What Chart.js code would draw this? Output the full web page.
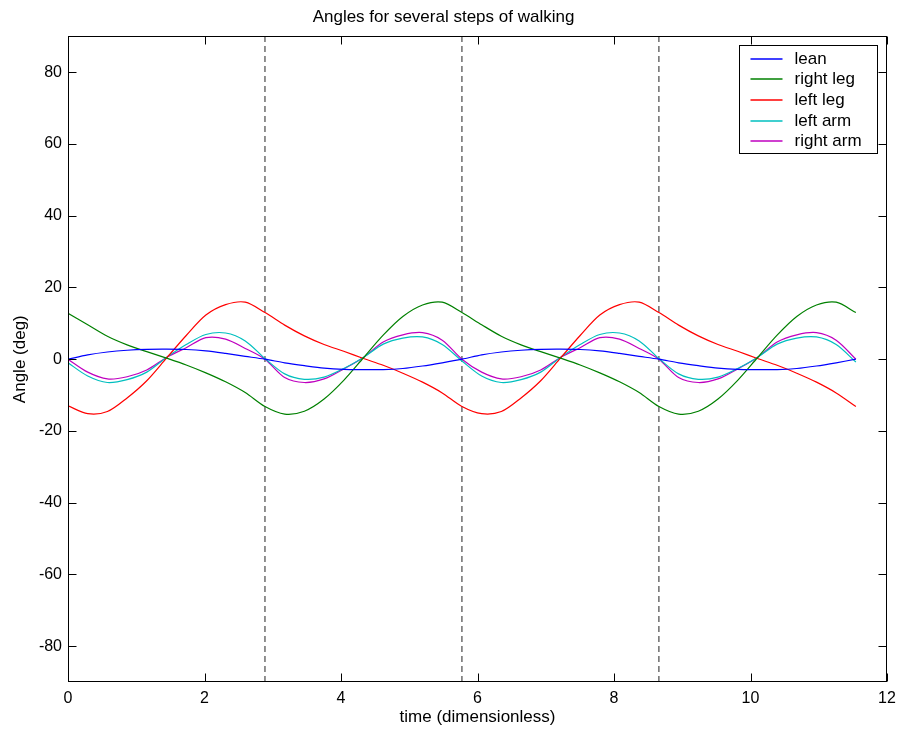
<!DOCTYPE html>
<html>
<head>
<meta charset="utf-8">
<title>Angles for several steps of walking</title>
<script src="https://cdn.jsdelivr.net/npm/chart.js@4.4.1/dist/chart.umd.min.js"></script>
<style>
  html, body { margin: 0; padding: 0; background: #fff; }
  canvas { display: block; }
</style>
</head>
<body>
<canvas id="myChart" width="898" height="736"></canvas>
<script>
// sample times (dimensionless)
const times = [0, 0.289, 0.577, 0.866, 1.154, 1.443, 1.732, 2.020, 2.309, 2.597,
  2.886, 3.175, 3.463, 3.752, 4.040, 4.329, 4.618, 4.906, 5.195, 5.483,
  5.772, 6.061, 6.349, 6.638, 6.926, 7.215, 7.504, 7.792, 8.081, 8.369,
  8.658, 8.947, 9.235, 9.524, 9.812, 10.101, 10.390, 10.678, 10.967, 11.255, 11.544];

// angles in degrees
const lean = [0, 1.2, 2.0, 2.5, 2.75, 2.8, 2.7, 2.3, 1.6, 0.8,
  0, -1.0, -1.8, -2.5, -2.85, -2.9, -2.9, -2.6, -1.9, -1.0,
  0, 1.2, 2.0, 2.5, 2.75, 2.8, 2.7, 2.3, 1.6, 0.8,
  0, -1.0, -1.8, -2.5, -2.85, -2.9, -2.9, -2.6, -1.9, -1.0, 0];
const rightLeg = [12.8, 9.6, 6.4, 4.0, 2.1, 0.3, -1.6, -3.8, -6.3, -9.3,
  -13.2, -15.3, -14.5, -11.1, -5.9, 0.4, 6.7, 11.9, 15.1, 15.9,
  13.0, 9.6, 6.4, 4.0, 2.1, 0.3, -1.6, -3.8, -6.3, -9.3,
  -13.2, -15.3, -14.5, -11.1, -5.9, 0.4, 6.7, 11.9, 15.1, 15.9, 13.0];
const leftLeg = [-13.0, -15.2, -14.6, -10.8, -6.0, 0.3, 6.6, 12.3, 15.2, 15.9,
  13.0, 9.5, 6.5, 4.1, 2.2, 0.2, -1.7, -3.9, -6.4, -9.4,
  -13.2, -15.2, -14.6, -10.8, -6.0, 0.3, 6.6, 12.3, 15.2, 15.9,
  13.0, 9.5, 6.5, 4.1, 2.2, 0.2, -1.7, -3.9, -6.4, -9.4, -13.2];
const leftArm = [-1.0, -4.7, -6.5, -5.7, -3.6, 0.5, 4.1, 6.9, 7.3, 5.1,
  0.2, -4.1, -5.6, -5.0, -2.6, 0.5, 4.2, 5.9, 6.2, 4.1,
  -0.5, -4.7, -6.5, -5.7, -3.6, 0.5, 4.1, 6.9, 7.3, 5.1,
  0.2, -4.1, -5.6, -5.0, -2.6, 0.5, 4.2, 5.9, 6.2, 4.1, -0.8];
const rightArm = [0, -3.6, -5.5, -4.9, -3.0, 0.5, 3.2, 6.0, 5.6, 3.0,
  0, -5.1, -6.5, -5.5, -2.7, 0.5, 4.8, 6.8, 7.4, 5.3,
  0, -3.6, -5.5, -4.9, -3.0, 0.5, 3.2, 6.0, 5.6, 3.0,
  0, -5.1, -6.5, -5.5, -2.7, 0.5, 4.8, 6.8, 7.4, 5.3, 0];

const seriesLabels = ['lean', 'right leg', 'left leg', 'left arm', 'right arm'];
const seriesValues = [lean, rightLeg, leftLeg, leftArm, rightArm];
const seriesColors = ['#0000ff', '#008000', '#ff0000', '#00bfbf', '#bf00bf'];

// step boundaries (dashed lines)
const stepTimes = [2.886, 5.772, 8.658];

const xTicks = [0, 2, 4, 6, 8, 10, 12];
const yTicks = [-80, -60, -40, -20, 0, 20, 40, 60, 80];
const yRange = [-90, 90];

const FONT = "'Liberation Sans', Arial, Helvetica, sans-serif";

const datasets = seriesValues.map((vals, i) => ({
  label: seriesLabels[i],
  data: times.map((t, j) => ({ x: t, y: vals[j] })),
  borderColor: seriesColors[i],
  backgroundColor: seriesColors[i],
  borderWidth: 1.2,
  pointRadius: 0,
  tension: 0.3,
  fill: false,
}));

stepTimes.forEach(t => {
  datasets.push({
    label: '_step',
    data: [{ x: t, y: yRange[0] }, { x: t, y: yRange[1] }],
    borderColor: '#222',
    borderWidth: 1,
    borderDash: [6, 4],
    pointRadius: 0,
    fill: false,
  });
});

// box, inward ticks on four sides, legend in the upper right
const frameAndLegend = {
  id: 'frameAndLegend',
  afterDraw(chart) {
    const { ctx, chartArea: a, scales: { x, y } } = chart;
    const L = Math.round(a.left) + 0.5, R = Math.round(a.right) - 0.5;
    const T = Math.round(a.top) + 0.5, B = Math.round(a.bottom) - 0.5;
    ctx.save();
    ctx.strokeStyle = '#000';
    ctx.lineWidth = 1;
    ctx.setLineDash([]);
    ctx.strokeRect(L, T, R - L, B - T);

    ctx.beginPath();
    xTicks.forEach(v => {
      const px = Math.round(x.getPixelForValue(v)) + 0.5;
      ctx.moveTo(px, B); ctx.lineTo(px, B - 8);
      ctx.moveTo(px, T); ctx.lineTo(px, T + 8);
    });
    yTicks.forEach(v => {
      const py = Math.round(y.getPixelForValue(v)) + 0.5;
      ctx.moveTo(L, py); ctx.lineTo(L + 8, py);
      ctx.moveTo(R, py); ctx.lineTo(R - 8, py);
    });
    ctx.stroke();

    // legend
    const bx = Math.round(a.right - 148) + 0.5, by = Math.round(a.top + 10) - 0.5;
    const bw = 138, bh = 108;
    ctx.fillStyle = '#fff';
    ctx.fillRect(bx, by, bw, bh);
    ctx.strokeRect(bx, by, bw, bh);
    ctx.font = '17px ' + FONT;
    ctx.textAlign = 'left';
    ctx.textBaseline = 'middle';
    seriesLabels.forEach((lab, i) => {
      const ly = Math.round(by + 13 + i * 20.7);
      ctx.strokeStyle = seriesColors[i];
      ctx.lineWidth = 1.5;
      ctx.beginPath();
      ctx.moveTo(bx + 11, ly);
      ctx.lineTo(bx + 43, ly);
      ctx.stroke();
      ctx.fillStyle = '#000';
      ctx.fillText(lab, bx + 55, ly);
    });
    ctx.restore();
  }
};

const ctx = document.getElementById('myChart').getContext('2d');
const myChart = new Chart(ctx, {
  type: 'line',
  data: { datasets: datasets },
  options: {
    responsive: false,
    animation: false,
    devicePixelRatio: 1,
    layout: { padding: { left: 0, right: 11, top: 0, bottom: 0 } },
    plugins: {
      legend: { display: false },
      tooltip: { enabled: false },
      title: {
        display: true,
        text: 'Angles for several steps of walking',
        color: '#000',
        font: { family: FONT, size: 17, weight: 'normal' },
        padding: { top: 7, bottom: 9 },
      },
    },
    scales: {
      x: {
        type: 'linear',
        min: 0,
        max: 12,
        afterBuildTicks: s => { s.ticks = xTicks.map(v => ({ value: v })); },
        afterFit: s => { s.height = 54; s.paddingLeft = 0; s.paddingRight = 0; },
        grid: { display: false, drawTicks: false },
        border: { display: false },
        ticks: {
          padding: 7,
          color: '#000',
          autoSkip: false,
          maxRotation: 0,
          font: { family: FONT, size: 16 },
        },
        title: {
          display: true,
          text: 'time (dimensionless)',
          color: '#000',
          font: { family: FONT, size: 17 },
          padding: { top: 0, bottom: 8 },
        },
      },
      y: {
        type: 'linear',
        min: yRange[0],
        max: yRange[1],
        afterBuildTicks: s => { s.ticks = yTicks.map(v => ({ value: v })); },
        afterFit: s => { s.width = 68; },
        grid: { display: false, drawTicks: false },
        border: { display: false },
        ticks: {
          padding: 6,
          color: '#000',
          font: { family: FONT, size: 16 },
        },
        title: {
          display: true,
          text: 'Angle (deg)',
          color: '#000',
          font: { family: FONT, size: 17 },
          padding: { top: 10, bottom: 0 },
        },
      },
    },
  },
  plugins: [frameAndLegend],
});
</script>
</body>
</html>
